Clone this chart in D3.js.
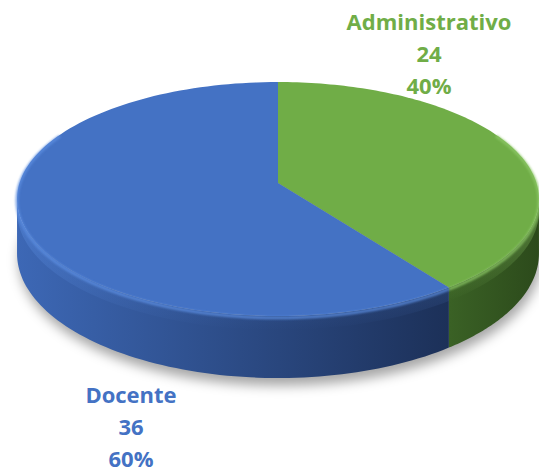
<!DOCTYPE html>
<html><head><meta charset="utf-8">
<script src="https://cdn.jsdelivr.net/npm/d3@7"></script>
<style>body{margin:0;background:#fff;overflow:hidden}</style></head>
<body><script>
const categories = ["Administrativo", "Docente"];
const values = [24, 36];
const colors = ["#70AD47", "#4472C4"];
const sideDark = ["#2c4a1b", "#1c3058"];
const sideLight = ["#3a6125", "#3d68b6"];
const rimLight = ["#8cc766", "#5b8de0"];

const W = 539, H = 473;
const svg = d3.select("body").append("svg").attr("width", W).attr("height", H);
const defs = svg.append("defs");

// projection parameters (tilted circle with perspective)
const cx0 = 278, cy0 = 183, Sx = 258.5, Sy = 114.8, k = 0.137, Dz = 53.5;
function proj(t, z) {
  const u = Math.sin(t), v = Math.cos(t), w = 1 + k * v;
  return [cx0 + Sx * u / w, cy0 + (-Sy * v + z) / w];
}
function arcPts(a, b, z, n) {
  const pts = [];
  for (let i = 0; i <= n; i++) pts.push(proj(a + (b - a) * i / n, z));
  return pts;
}
const line = d3.line();

const total = d3.sum(values);
const pie = d3.pie().sort(null).startAngle(0).endAngle(2 * Math.PI);
const arcs = pie(values);

// shadow
const f = defs.append("filter").attr("id", "sh").attr("x", "-20%").attr("y", "-20%").attr("width", "140%").attr("height", "140%");
f.append("feGaussianBlur").attr("stdDeviation", 6);
svg.append("path")
  .attr("d", line(arcPts(0, 2 * Math.PI, Dz + 4, 200)) + "Z")
  .attr("fill", "rgba(0,0,0,0.35)")
  .attr("transform", "translate(2,3)")
  .attr("filter", "url(#sh)");

const ta = Math.acos(-k), tb = 2 * Math.PI - Math.acos(-k);

// sides
arcs.forEach((d, i) => {
  const a = Math.max(d.startAngle, ta), b = Math.min(d.endAngle, tb);
  if (b <= a) return;
  const g = defs.append("linearGradient").attr("id", "sg" + i)
    .attr("gradientUnits", "userSpaceOnUse")
    .attr("x1", i === 1 ? 15 : 450).attr("x2", i === 1 ? 450 : 539).attr("y1", 0).attr("y2", 0);
  g.append("stop").attr("offset", 0).attr("stop-color", sideLight[i]);
  g.append("stop").attr("offset", 1).attr("stop-color", sideDark[i]);
  const top = arcPts(a, b, 0, 80), bot = arcPts(b, a, Dz, 80);
  svg.append("path").attr("d", line(top.concat(bot)) + "Z").attr("fill", `url(#sg${i})`);
  // bevel highlight
  const vg = defs.append("linearGradient").attr("id", "vg" + i).attr("x1", 0).attr("x2", 0).attr("y1", 0).attr("y2", 1);
  vg.append("stop").attr("offset", 0).attr("stop-color", rimLight[i]).attr("stop-opacity", 0.9);
  vg.append("stop").attr("offset", 1).attr("stop-color", rimLight[i]).attr("stop-opacity", 0);
  const top2 = arcPts(a, b, 0, 80), bot2 = arcPts(b, a, 12, 80);
  svg.append("path").attr("d", line(top2.concat(bot2)) + "Z").attr("fill", `url(#vg${i})`).attr("opacity", 0.55);
});

// top faces
const P = [cx0, cy0];
arcs.forEach((d, i) => {
  const pts = [P].concat(arcPts(d.startAngle, d.endAngle, 0, 120));
  svg.append("path").attr("d", line(pts) + "Z").attr("fill", colors[i]);
});
// top rim bevel
const bf = defs.append("filter").attr("id", "bl");
bf.append("feGaussianBlur").attr("stdDeviation", 1.2);
arcs.forEach((d, i) => {
  const a = Math.max(d.startAngle, ta - 0.6), b = Math.min(d.endAngle, tb + 0.6);
  if (b <= a) return;
  svg.append("path").attr("d", line(arcPts(a, b, 1.5, 80)))
    .attr("fill", "none").attr("stroke", rimLight[i]).attr("stroke-width", 3)
    .attr("opacity", 0.8).attr("filter", "url(#bl)");
});

// labels
const labelPos = [[429, 30], [131, 403]];
const lineGap = 32;
arcs.forEach((d, i) => {
  const t = svg.append("text").attr("text-anchor", "middle")
    .attr("font-family", "'Open Sans', sans-serif").attr("font-weight", "bold")
    .attr("font-size", 22).attr("fill", colors[i]);
  const lines = [categories[i], String(values[i]), Math.round(values[i] / total * 100) + "%"];
  lines.forEach((s, j) => t.append("tspan").attr("x", labelPos[i][0]).attr("y", labelPos[i][1] + j * lineGap).text(s));
});
</script></body></html>
